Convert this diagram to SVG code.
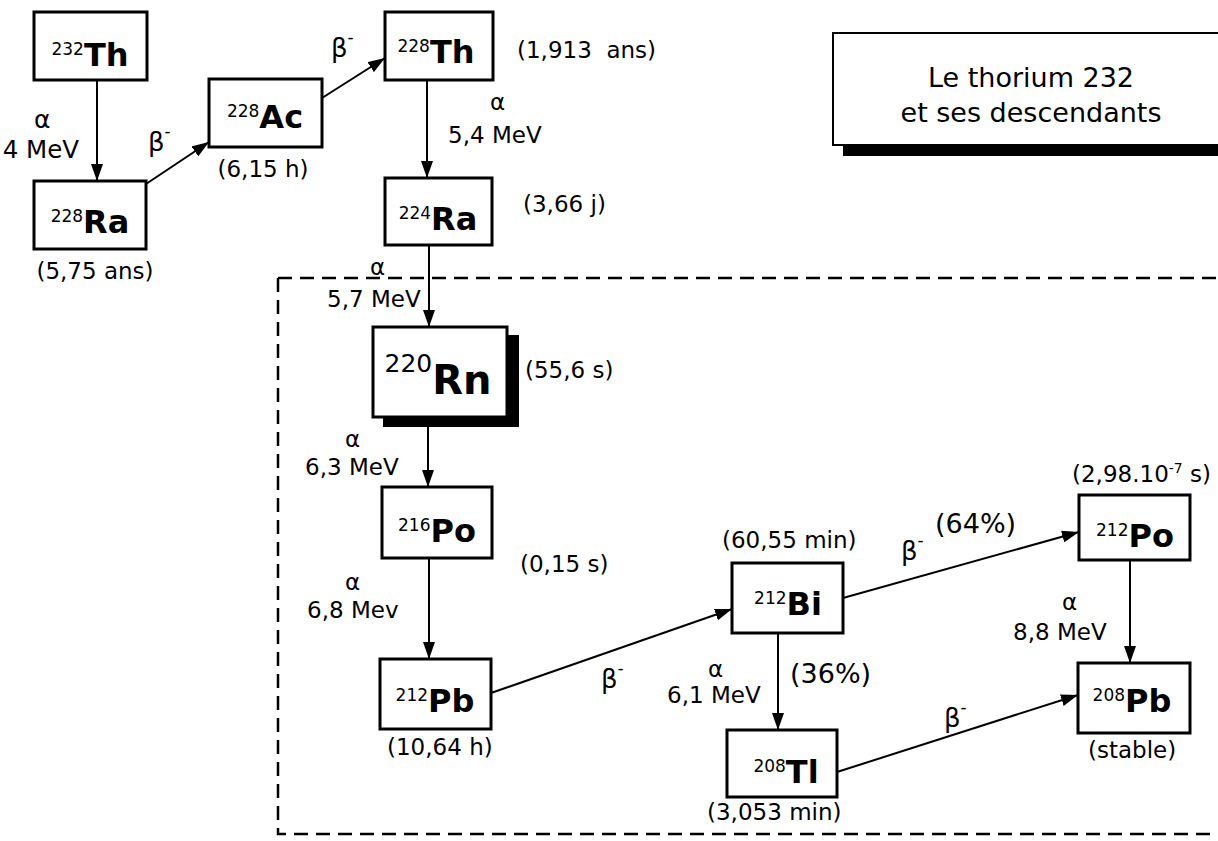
<svg xmlns="http://www.w3.org/2000/svg" width="1218" height="841" viewBox="0 0 1218 841">
<style>
text{font-family:"DejaVu Sans","Liberation Sans",sans-serif;fill:#000}
.t{font-size:23px}
.sym{font-size:32px;font-weight:bold}
.sup{font-size:17px}
.b{font-size:26px}
.pc{font-size:27px}
.box{fill:#fff;stroke:#000;stroke-width:3}
.ln{stroke:#000;stroke-width:2;fill:none}
</style>
<defs>
<marker id="ah" viewBox="0 0 17 12" refX="17" refY="6" markerWidth="17" markerHeight="12" orient="auto" markerUnits="userSpaceOnUse"><path d="M0,0 L17,6 L0,12 z" fill="#000"/></marker>
</defs>
<rect width="1218" height="841" fill="#fff"/>

<g id="region">
<path d="M278,278 H1218 M278,278 V834 H1218" fill="none" stroke="#000" stroke-width="2.5" stroke-dasharray="14 8"/>
</g>

<g id="title">
<rect x="843" y="140" width="380" height="16" fill="#000"/>
<rect x="833" y="33" width="400" height="112" fill="#fff" stroke="#000" stroke-width="2"/>
<text x="1031" y="87" font-size="27" text-anchor="middle">Le thorium 232</text>
<text x="1031" y="122" font-size="27" text-anchor="middle">et ses descendants</text>
</g>

<g id="connectors">
<line class="ln" x1="97" y1="80" x2="97" y2="181" marker-end="url(#ah)"/>
<line class="ln" x1="146" y1="184" x2="209" y2="142" marker-end="url(#ah)"/>
<line class="ln" x1="322" y1="98" x2="385" y2="58" marker-end="url(#ah)"/>
<line class="ln" x1="427" y1="80" x2="427" y2="178" marker-end="url(#ah)"/>
<line class="ln" x1="429" y1="245" x2="429" y2="327" marker-end="url(#ah)"/>
<line class="ln" x1="428" y1="427" x2="428" y2="487" marker-end="url(#ah)"/>
<line class="ln" x1="429" y1="558" x2="429" y2="659" marker-end="url(#ah)"/>
<line class="ln" x1="491" y1="693" x2="732" y2="609" marker-end="url(#ah)"/>
<line class="ln" x1="843" y1="598" x2="1079" y2="532" marker-end="url(#ah)"/>
<line class="ln" x1="778" y1="633" x2="778" y2="730" marker-end="url(#ah)"/>
<line class="ln" x1="1130" y1="560" x2="1130" y2="663" marker-end="url(#ah)"/>
<line class="ln" x1="837" y1="772" x2="1078" y2="695" marker-end="url(#ah)"/>
</g>

<g id="labels">
<text x="34" y="128" font-size="25">α</text>
<text x="79" y="158" font-size="24.5" text-anchor="end">4 MeV</text>
<text class="b" x="148" y="151">β<tspan class="sup" dy="-14">-</tspan></text>
<text class="b" x="331" y="57">β<tspan class="sup" dy="-14">-</tspan></text>
<text class="t" x="490" y="110">α</text>
<text class="t" x="448" y="143">5,4 MeV</text>
<text class="t" x="370" y="275">α</text>
<text class="t" x="327" y="307">5,7 MeV</text>
<text class="t" x="345" y="447">α</text>
<text class="t" x="305" y="475">6,3 MeV</text>
<text class="t" x="345" y="590">α</text>
<text class="t" x="307" y="618">6,8 Mev</text>
<text class="b" x="601" y="688">β<tspan class="sup" dy="-14">-</tspan></text>
<text class="b" x="901" y="560">β<tspan class="sup" dy="-14">-</tspan></text>
<text class="pc" x="935" y="533">(64%)</text>
<text class="t" x="708" y="677">α</text>
<text class="t" x="667" y="703">6,1 MeV</text>
<text class="pc" x="790" y="683">(36%)</text>
<text class="t" x="1062" y="610">α</text>
<text class="t" x="1013" y="640">8,8 MeV</text>
<text class="b" x="944" y="727">β<tspan class="sup" dy="-14">-</tspan></text>
</g>

<g id="n-th232">
<rect class="box" x="34" y="12" width="113" height="68"/>
<text x="90" y="66" text-anchor="middle"><tspan class="sup" dy="-11">232</tspan><tspan class="sym" dy="11">Th</tspan></text>
</g>
<g id="n-ra228">
<rect class="box" x="34" y="181" width="112" height="68"/>
<text x="90" y="233" text-anchor="middle"><tspan class="sup" dy="-11">228</tspan><tspan class="sym" dy="11">Ra</tspan></text>
<text class="t" x="95" y="279" text-anchor="middle">(5,75 ans)</text>
</g>
<g id="n-ac228">
<rect class="box" x="209" y="79" width="113" height="68"/>
<text x="265" y="128" text-anchor="middle"><tspan class="sup" dy="-11">228</tspan><tspan class="sym" dy="11">Ac</tspan></text>
<text class="t" x="263" y="177" text-anchor="middle">(6,15 h)</text>
</g>
<g id="n-th228">
<rect class="box" x="385" y="12" width="108" height="68"/>
<text x="436" y="63" text-anchor="middle"><tspan class="sup" dy="-11">228</tspan><tspan class="sym" dy="11">Th</tspan></text>
<text class="t" x="517" y="58" xml:space="preserve">(1,913  ans)</text>
</g>
<g id="n-ra224">
<rect class="box" x="385" y="178" width="107" height="67"/>
<text x="438" y="230" text-anchor="middle"><tspan class="sup" dy="-11">224</tspan><tspan class="sym" dy="11">Ra</tspan></text>
<text class="t" x="523" y="212">(3,66 j)</text>
</g>
<g id="n-rn220">
<rect x="383" y="335" width="136" height="92" fill="#000"/>
<rect class="box" x="373" y="327" width="134" height="90"/>
<text x="438" y="394" text-anchor="middle"><tspan font-size="25" dy="-22">220</tspan><tspan font-size="40" font-weight="bold" dy="22">Rn</tspan></text>
<text class="t" x="525" y="378">(55,6 s)</text>
</g>
<g id="n-po216">
<rect class="box" x="382" y="487" width="110" height="71"/>
<text x="437" y="542" text-anchor="middle"><tspan class="sup" dy="-11">216</tspan><tspan class="sym" dy="11">Po</tspan></text>
<text class="t" x="520" y="572">(0,15 s)</text>
</g>
<g id="n-pb212">
<rect class="box" x="380" y="659" width="111" height="70"/>
<text x="435" y="712" text-anchor="middle"><tspan class="sup" dy="-11">212</tspan><tspan class="sym" dy="11">Pb</tspan></text>
<text class="t" x="387" y="755">(10,64 h)</text>
</g>
<g id="n-bi212">
<rect class="box" x="732" y="563" width="111" height="70"/>
<text x="788" y="615" text-anchor="middle"><tspan class="sup" dy="-11">212</tspan><tspan class="sym" dy="11">Bi</tspan></text>
<text class="t" x="722" y="548">(60,55 min)</text>
</g>
<g id="n-po212">
<rect class="box" x="1079" y="495" width="111" height="65"/>
<text x="1135" y="547" text-anchor="middle"><tspan class="sup" dy="-11">212</tspan><tspan class="sym" dy="11">Po</tspan></text>
<text class="t" x="1072" y="482">(2,98.10<tspan font-size="14" dy="-9">-7</tspan><tspan dy="9"> s)</tspan></text>
</g>
<g id="n-pb208">
<rect class="box" x="1078" y="663" width="112" height="70"/>
<text x="1132" y="712" text-anchor="middle"><tspan class="sup" dy="-11">208</tspan><tspan class="sym" dy="11">Pb</tspan></text>
<text class="t" x="1088" y="758">(stable)</text>
</g>
<g id="n-tl208">
<rect class="box" x="727" y="730" width="110" height="67"/>
<text x="786" y="783" text-anchor="middle"><tspan class="sup" dy="-11">208</tspan><tspan class="sym" dy="11">Tl</tspan></text>
<text class="t" x="707" y="820">(3,053 min)</text>
</g>
</svg>
